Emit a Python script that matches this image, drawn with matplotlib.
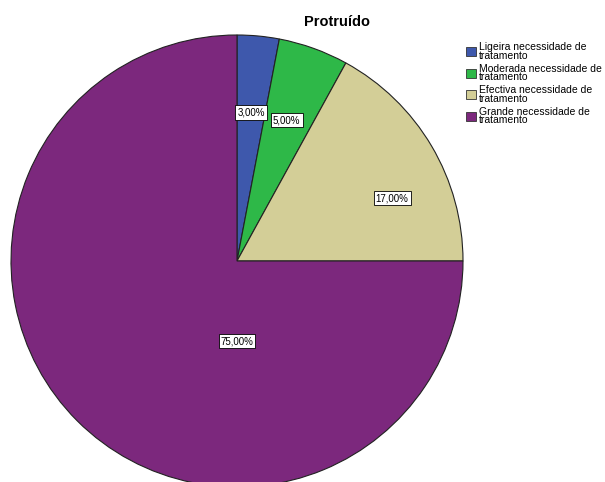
import numpy as np
import matplotlib.pyplot as plt
from matplotlib.patches import Patch

categories = ["Ligeira necessidade de\ntratamento",
              "Moderada necessidade de\ntratamento",
              "Efectiva necessidade de\ntratamento",
              "Grande necessidade de\ntratamento"]
values = [3.0, 5.0, 17.0, 75.0]
colors = ["#3E58AC", "#2EB848", "#D3CE97", "#7C287D"]

# where SPSS put the value boxes: angle from top (clockwise, deg), radius fraction
label_angle = [5.4, 19.5, 68.0, 180.0]
label_frac = [0.66, 0.66, 0.74, 0.355]

fig = plt.figure(figsize=(6.05, 4.82), dpi=100)
ax = fig.add_axes([0, 0, 1, 1])

cx, cy, r = 237, 221, 226
ax.pie(values, colors=colors, startangle=90, counterclock=False,
       center=(cx, cy), radius=r, frame=True,
       wedgeprops=dict(edgecolor='#222222', linewidth=0.8))
ax.set_xlim(0, 605)
ax.set_ylim(0, 482)
ax.axis('off')

for v, a, f in zip(values, label_angle, label_frac):
    t = np.deg2rad(a)
    ax.text(cx + f * r * np.sin(t), cy + f * r * np.cos(t),
            f"{v:.2f}%".replace('.', ','), ha='center', va='center',
            fontsize=7, family='Liberation Sans',
            bbox=dict(facecolor='white', edgecolor='black', linewidth=0.6, pad=1.5))

ax.text(337, 460, "Protruído", ha='center', va='center', fontsize=10.5,
        fontweight='bold', family='Liberation Sans')

handles = [Patch(facecolor=c, edgecolor='#333333', linewidth=0.6) for c in colors]
leg = fig.legend(handles, categories, loc='upper left', bbox_to_anchor=(461 / 605, 1 - 37 / 482),
                 frameon=False, handlelength=0.95, handleheight=0.95,
                 handletextpad=0.25, labelspacing=0.3, borderpad=0,
                 prop=dict(family='Liberation Sans', size=7.5))
for t in leg.get_texts():
    t.set_linespacing(0.8)

fig.savefig("out.png", dpi=100)
